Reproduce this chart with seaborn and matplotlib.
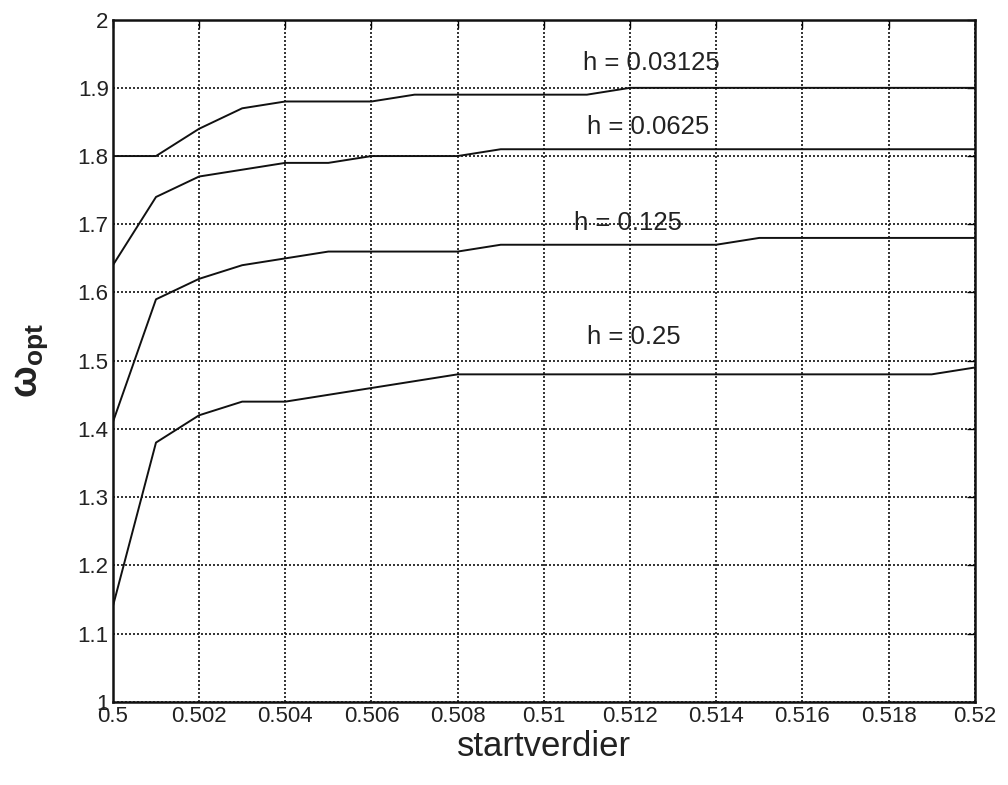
import matplotlib
matplotlib.use('Agg')
import matplotlib.pyplot as plt
import numpy as np
import pandas as pd
import seaborn as sns

# startverdier og omega_opt for hver h
startverdier = [0.500, 0.501, 0.502, 0.503, 0.504, 0.505, 0.506, 0.507, 0.508, 0.509, 0.510,
                0.511, 0.512, 0.513, 0.514, 0.515, 0.516, 0.517, 0.518, 0.519, 0.520]
w_h03125 = [1.80, 1.80, 1.84, 1.87, 1.88, 1.88, 1.88, 1.89, 1.89, 1.89, 1.89,
            1.89, 1.90, 1.90, 1.90, 1.90, 1.90, 1.90, 1.90, 1.90, 1.90]
w_h0625 = [1.64, 1.74, 1.77, 1.78, 1.79, 1.79, 1.80, 1.80, 1.80, 1.81, 1.81,
           1.81, 1.81, 1.81, 1.81, 1.81, 1.81, 1.81, 1.81, 1.81, 1.81]
w_h125 = [1.41, 1.59, 1.62, 1.64, 1.65, 1.66, 1.66, 1.66, 1.66, 1.67, 1.67,
          1.67, 1.67, 1.67, 1.67, 1.68, 1.68, 1.68, 1.68, 1.68, 1.68]
w_h25 = [1.14, 1.38, 1.42, 1.44, 1.44, 1.45, 1.46, 1.47, 1.48, 1.48, 1.48,
         1.48, 1.48, 1.48, 1.48, 1.48, 1.48, 1.48, 1.48, 1.48, 1.49]

labels = ['h = 0.03125', 'h = 0.0625', 'h = 0.125', 'h = 0.25']
label_x = [0.5109, 0.5110, 0.5107, 0.5110]
label_y = [1.937, 1.842, 1.702, 1.535]

sns.set_style('white')
plt.rcParams['font.family'] = ['Liberation Sans', 'DejaVu Sans']
plt.rcParams['mathtext.fontset'] = 'custom'
plt.rcParams['mathtext.rm'] = 'Liberation Sans'
plt.rcParams['mathtext.it'] = 'Liberation Sans'
plt.rcParams['mathtext.bf'] = 'Liberation Sans:bold'

fig = plt.figure(figsize=(10.08, 7.85), dpi=100)
ax = fig.add_axes([0.112, 0.106, 0.855, 0.869])

for serie in [w_h03125, w_h0625, w_h125, w_h25]:
    df = pd.DataFrame({'x': startverdier, 'y': serie})
    sns.lineplot(data=df, x='x', y='y', color='#111111', linewidth=1.4, ax=ax)

for txt, tx, ty in zip(labels, label_x, label_y):
    ax.text(tx, ty, txt, fontsize=18.5, va='center', ha='left', color='#222222')

ax.set_xlim(0.5, 0.52)
ax.set_ylim(1, 2)
ax.set_xticks(np.arange(0.5, 0.5201, 0.002))
ax.set_xticklabels(['0.5', '0.502', '0.504', '0.506', '0.508', '0.51',
                    '0.512', '0.514', '0.516', '0.518', '0.52'])
ax.set_yticks(np.arange(1, 2.01, 0.1))
ax.set_yticklabels(['1', '1.1', '1.2', '1.3', '1.4', '1.5', '1.6', '1.7', '1.8', '1.9', '2'])
ax.tick_params(direction='in', length=6, width=1, labelsize=16, colors='k',
               top=True, right=True, labelcolor='#222222', pad=3)
ax.grid(True, linestyle=(0, (1.2, 1.2)), color='#111111', linewidth=1.2)
for s in ax.spines.values():
    s.set_color('#111111')
    s.set_linewidth(1.8)

ax.set_xlabel('startverdier', fontsize=25, color='#222222', labelpad=2)
ax.set_ylabel(r'$\mathbf{\omega}_{\mathbf{opt}}$', fontsize=27, color='#222222', labelpad=20)

fig.savefig('out.png', dpi=100)
